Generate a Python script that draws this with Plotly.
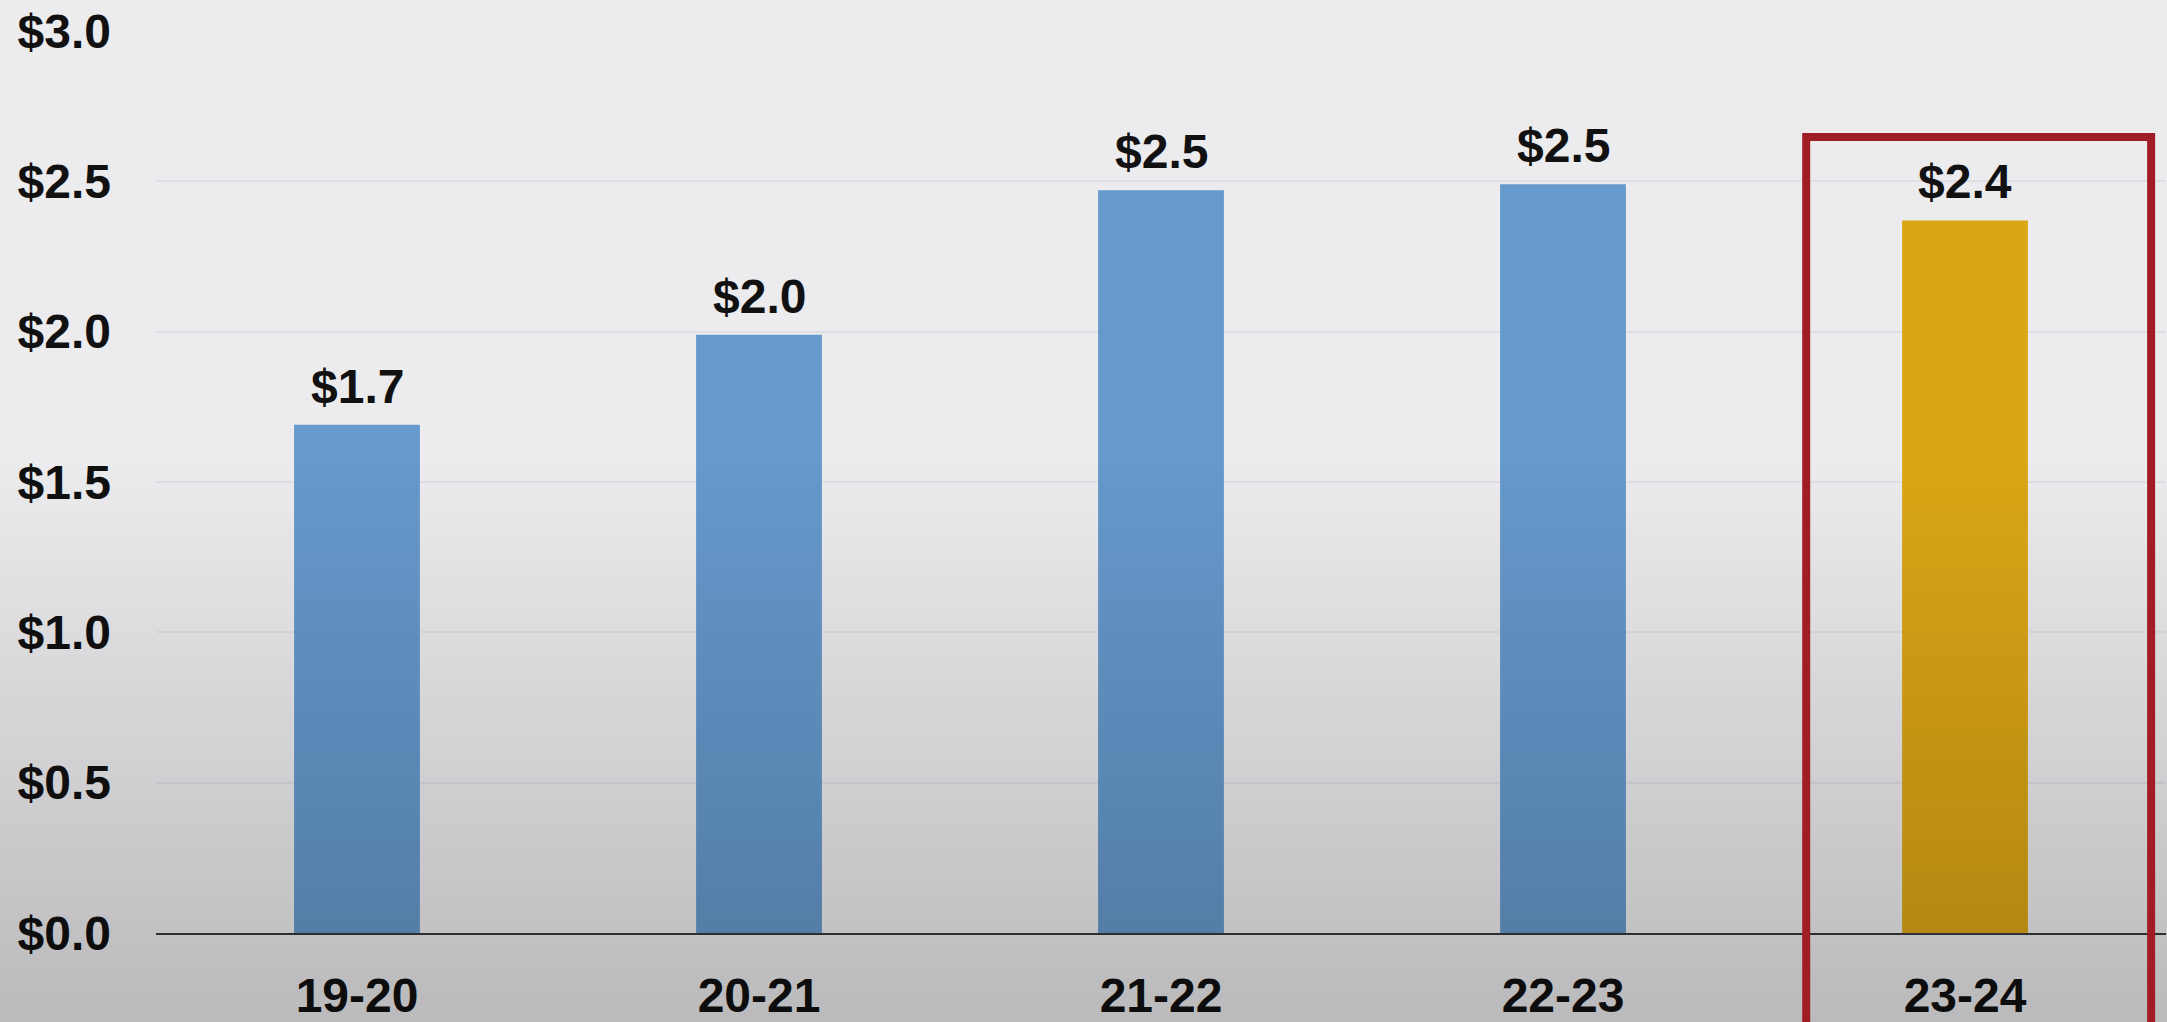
import base64
import struct
import zlib

import plotly.graph_objects as go

# Annual amounts (in $) by season
seasons = ["19-20", "20-21", "21-22", "22-23", "23-24"]
amounts = [1.69, 1.99, 2.47, 2.49, 2.37]
highlight_season = "23-24"

# Y axis ticks
y_tickvals = [0.0, 0.5, 1.0, 1.5, 2.0, 2.5, 3.0]
y_ticktext = [f"${v:.1f}" for v in y_tickvals]

W, H = 2167, 1022
M_L, M_R, M_T, M_B = 156, 1, 31, 89

BLUE = "#6699cc"
GOLD = "#dba616"
TEXT = "#111111"
FONT = "Liberation Sans, Arial, sans-serif"

bar_colors = [GOLD if s == highlight_season else BLUE for s in seasons]

fig = go.Figure()
fig.add_trace(
    go.Bar(
        x=seasons,
        y=amounts,
        width=0.313,
        marker=dict(color=bar_colors, line=dict(width=0)),
        hoverinfo="skip",
    )
)

# value labels above each bar, formatted from the bar value
for s, v in zip(seasons, amounts):
    fig.add_annotation(
        x=s, y=v, text=f"${v:.1f}", showarrow=False,
        yanchor="bottom", xanchor="center", yshift=10,
        font=dict(family=FONT, size=48, color=TEXT, weight="bold"),
    )

plot_w = W - M_L - M_R
plot_h = H - M_T - M_B


def px_to_paper(ypx):
    return (H - M_B - ypx) / plot_h


# soft darkening toward the bottom of the slide: a small RGBA png, stretched
def shade_png(rows, start, max_alpha, width=4):
    raw = bytearray()
    for r in range(rows):
        t = 0.0 if r < start else (r - start) / (rows - 1 - start)
        a = int(round(255 * max_alpha * t))
        raw += b"\x00" + bytes([0, 0, 0, a]) * width

    def chunk(tag, data):
        body = tag + data
        return struct.pack(">I", len(data)) + body + struct.pack(">I", zlib.crc32(body) & 0xFFFFFFFF)

    ihdr = struct.pack(">IIBBBBB", width, rows, 8, 6, 0, 0, 0)
    png = (b"\x89PNG\r\n\x1a\n" + chunk(b"IHDR", ihdr)
           + chunk(b"IDAT", zlib.compress(bytes(raw), 9)) + chunk(b"IEND", b""))
    return "data:image/png;base64," + base64.b64encode(png).decode()


fig.add_layout_image(
    source=shade_png(H, 460, 0.21),
    xref="paper", yref="paper",
    x=-M_L / plot_w, y=1 + M_T / plot_h,
    sizex=W / plot_w, sizey=H / plot_h,
    xanchor="left", yanchor="top",
    sizing="stretch", layer="above", opacity=1,
)

# highlight frame around the latest season
hi = seasons.index(highlight_season)
fig.add_shape(
    type="rect", xref="x", yref="paper",
    x0=hi - 0.395, x1=hi + 0.463,
    y0=-0.3, y1=px_to_paper(137),
    line=dict(color="#a01d25", width=8), fillcolor="rgba(0,0,0,0)",
    layer="above",
)

fig.update_layout(
    width=W, height=H,
    margin=dict(l=M_L, r=M_R, t=M_T, b=M_B, pad=0),
    paper_bgcolor="#ecebee",
    plot_bgcolor="rgba(0,0,0,0)",
    showlegend=False,
    font=dict(family=FONT, color=TEXT),
)

fig.update_xaxes(
    type="category",
    range=[-0.5, len(seasons) - 0.5],
    automargin=False,
    showgrid=False,
    showline=True, linecolor="#3a3a3a", linewidth=2,
    ticks="", ticklabelstandoff=19,
    tickfont=dict(family=FONT, size=48, color=TEXT, weight="bold"),
    zeroline=False,
)

fig.update_yaxes(
    range=[0, 3.0],
    automargin=False,
    tickvals=y_tickvals, ticktext=y_ticktext,
    showgrid=True, gridcolor="#e0dfe3", gridwidth=1.5,
    zeroline=False, showline=False,
    ticks="", ticklabelstandoff=44,
    tickfont=dict(family=FONT, size=48, color=TEXT, weight="bold"),
)

fig.write_html("out.html")
